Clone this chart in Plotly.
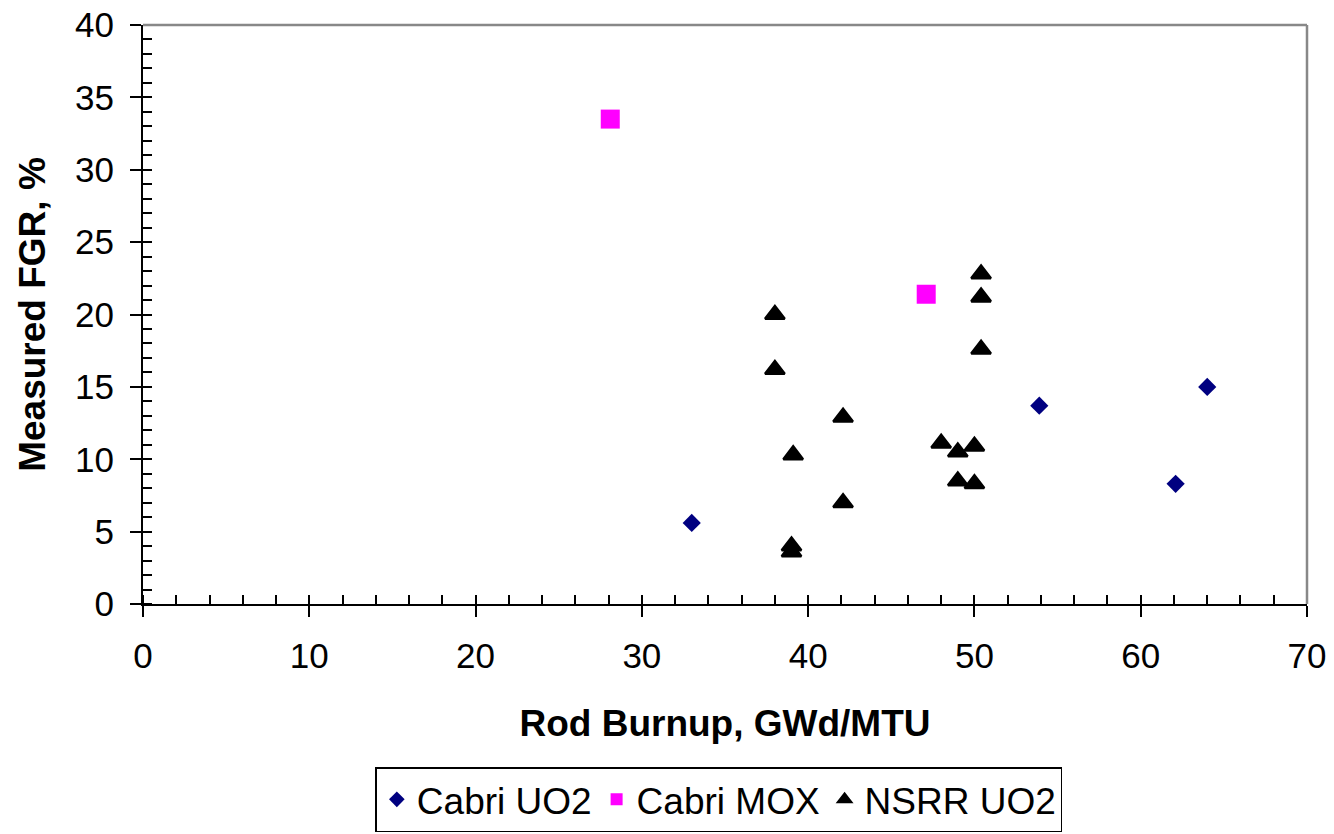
import plotly.graph_objects as go

# Data
cabri_uo2_x = [33.0, 53.9, 62.1, 64.0]
cabri_uo2_y = [5.6, 13.7, 8.3, 15.0]

cabri_mox_x = [28.1, 47.1]
cabri_mox_y = [33.5, 21.4]

nsrr_uo2_x = [38.0, 38.0, 39.1, 39.0, 39.0, 42.1, 42.1, 48.0, 49.0, 50.0, 49.0, 50.0, 50.4, 50.4, 50.4]
nsrr_uo2_y = [20.0, 16.2, 10.3, 4.0, 3.6, 12.9, 7.0, 11.1, 10.5, 10.9, 8.5, 8.3, 22.8, 21.2, 17.6]

FONT = "Liberation Sans, Arial, sans-serif"

fig = go.Figure()
fig.add_trace(go.Scatter(
    x=cabri_uo2_x, y=cabri_uo2_y, mode="markers", name="Cabri UO2",
    marker=dict(symbol="diamond", size=14, color="#000080",
                line=dict(width=0))))
fig.add_trace(go.Scatter(
    x=cabri_mox_x, y=cabri_mox_y, mode="markers", name="Cabri MOX",
    marker=dict(symbol="square", size=19, color="#FF00FF",
                line=dict(width=0))))
fig.add_trace(go.Scatter(
    x=nsrr_uo2_x, y=nsrr_uo2_y, mode="markers", name="NSRR UO2",
    marker=dict(symbol="triangle-up", size=17, color="#000000",
                line=dict(width=2.5, color="#000000"))))

axis_common = dict(
    showgrid=False, zeroline=False, showline=True, linecolor="#000000",
    linewidth=2, ticks="outside", ticklen=11, tickwidth=1.5,
    tickcolor="#000000", tickfont=dict(family=FONT, size=35, color="#000000"),
    ticklabelstandoff=9,
)

fig.update_layout(
    width=1334, height=834,
    margin=dict(l=142.5, r=26.5, t=24.7, b=230.3, autoexpand=False),
    paper_bgcolor="white", plot_bgcolor="white",
    showlegend=True,
    xaxis=dict(
        range=[0, 70], dtick=10, tick0=0,
        minor=dict(ticks="inside", dtick=2, tick0=0, ticklen=9, tickwidth=1.5,
                   tickcolor="#000000"),
        title=dict(text="<b>Rod Burnup, GWd/MTU</b>", standoff=36,
                   font=dict(family=FONT, size=37, color="#000000")),
        **axis_common),
    yaxis=dict(
        range=[0, 40], dtick=5, tick0=0,
        minor=dict(ticks="inside", dtick=1, tick0=0, ticklen=9, tickwidth=1.5,
                   tickcolor="#000000"),
        title=dict(text="<b>Measured FGR, %</b>", standoff=18,
                   font=dict(family=FONT, size=37, color="#000000")),
        **axis_common),
    legend=dict(
        orientation="h", x=0.1996, xanchor="left", y=-0.282, yanchor="top",
        bordercolor="#000000", borderwidth=1.5, bgcolor="white",
        font=dict(family=FONT, size=37, color="#000000"),
        itemsizing="constant",
    ),
    shapes=[
        dict(type="line", xref="paper", yref="paper", x0=0, x1=1, y0=1, y1=1,
             line=dict(color="#888888", width=2.5)),
        dict(type="line", xref="paper", yref="paper", x0=1, x1=1, y0=0, y1=1,
             line=dict(color="#888888", width=2.5)),
    ],
)

fig.write_html("out.html")
